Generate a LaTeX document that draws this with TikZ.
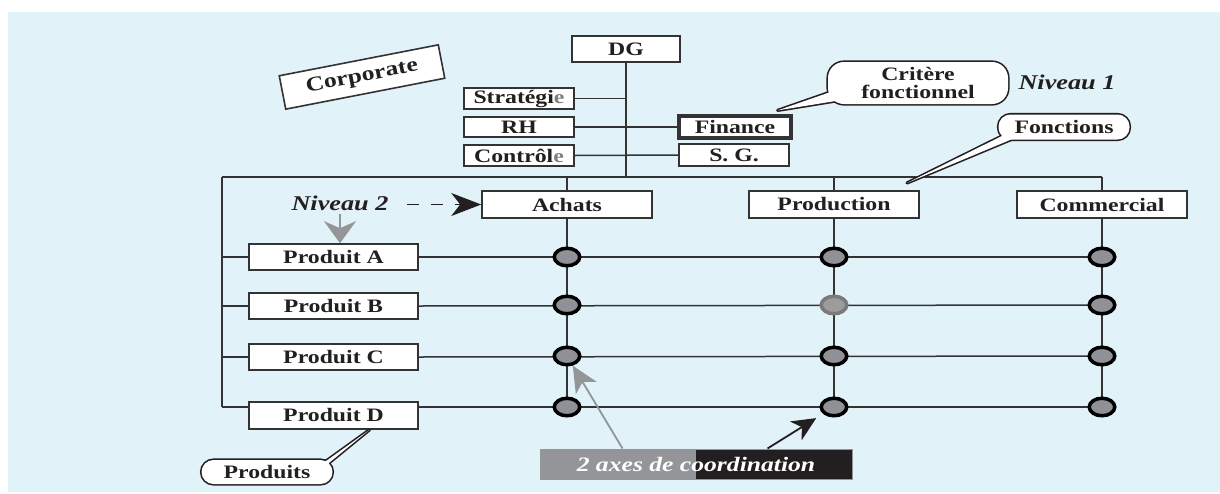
\documentclass[tikz,border=0pt]{standalone}
\usepackage{fontspec}
\setmainfont{Liberation Serif}[FakeStretch=1.25]
\usetikzlibrary{arrows.meta,shapes.geometric,calc}
\definecolor{panel}{HTML}{E1F2F9}
\definecolor{ink}{HTML}{231F20}
\definecolor{wire}{HTML}{333333}
\definecolor{knob}{HTML}{8F9196}
\definecolor{halfgray}{HTML}{939598}
\definecolor{softring}{HTML}{7A7A7A}
\definecolor{softknob}{HTML}{9C9C9C}
\begin{document}
\begin{tikzpicture}[x=1pt,y=-1pt,
  every node/.style={font=\fontsize{19}{18}\selectfont\bfseries, text=ink},
  unit/.style={draw=wire, line width=1.6pt, fill=white, inner sep=0pt},
  wireline/.style={draw=wire, line width=1.5pt},
  knot/.style={ellipse, draw=black, line width=3.5pt, fill=knob, inner sep=0pt,
    minimum width=25.5pt, minimum height=17.5pt},
  softknot/.style={knot, draw=softring, fill=softknob},
  tag/.style={font=\fontsize{21}{21}\selectfont\bfseries\itshape},
  bubble/.style={fill=white, rounded corners=#1, inner sep=0pt,
    preaction={draw=ink, line width=3.2pt}},
  tailstroke/.style={draw=ink, line width=3.2pt, line join=round},
]
\useasboundingbox (0,0) rectangle (1220,493);
\fill[panel] (8,12) rectangle (1220,492);

% ---- top level: direction and staff units
\node[unit, minimum width=108pt, minimum height=26pt] (dg) at (626,49) {DG};
\node[unit, minimum width=110pt, minimum height=21pt] (strat) at (519,98.5) {Stratégi{\color{gray}e}};
\node[unit, minimum width=110pt, minimum height=20pt] (rh) at (519,127) {RH};
\node[unit, minimum width=110pt, minimum height=21pt] (ctrl) at (519,155.5) {Contrôl{\color{gray}e}};
\node[unit, line width=3.2pt, minimum width=112pt, minimum height=22pt] (fin) at (735,127) {Finance};
\node[unit, minimum width=110pt, minimum height=22pt] (sg) at (734,155) {S. G.};

\node[unit, rotate=11, minimum width=162pt, minimum height=34pt,
  font=\fontsize{20.5}{20}\selectfont\bfseries] (corp) at (362,77) {Corporate};

% ---- functions (columns) and products (rows)
\node[unit, minimum width=170pt, minimum height=27pt] (ach) at (567,204.5) {Achats};
\node[unit, minimum width=170pt, minimum height=27pt] (prod) at (834,204.5) {Production};
\node[unit, minimum width=170pt, minimum height=27pt] (com) at (1102,204.5) {Commercial};

\node[unit, minimum width=169pt, minimum height=26pt] (pA) at (333.5,257) {Produit A};
\node[unit, minimum width=169pt, minimum height=26pt] (pB) at (333.5,306) {Produit B};
\node[unit, minimum width=169pt, minimum height=26pt] (pC) at (333.5,357) {Produit C};
\node[unit, minimum width=169pt, minimum height=27pt] (pD) at (333.5,415.5) {Produit D};

\coordinate (busL) at (222,177);
\coordinate (busR) at (1102,177);
\coordinate (rA) at (0,257);
\coordinate (rB) at (0,305);
\coordinate (rC) at (0,356);
\coordinate (rD) at (0,407);

% ---- wiring
\draw[wireline] (dg.south) -- (dg.south |- busL);
\draw[wireline] (strat.east) -- (strat.east -| dg.south);
\draw[wireline] (rh.east) -- (fin.west);
\draw[wireline] (ctrl.east) -- (sg.west);
\draw[wireline] (busL) -- (busR);
\foreach \f in {ach,prod,com}{
  \draw[wireline] (\f.north |- busL) -- (\f.north);
  \draw[wireline] (\f.south) -- (\f |- rD);
}
\draw[wireline] (busL) -- (busL |- rD);
\draw[wireline] (busL |- pA.west) -- (pA.west);
\draw[wireline] (busL |- pB.west) -- (pB.west);
\draw[wireline] (busL |- pC.west) -- (pC.west);
\draw[wireline] (busL |- rD) -- (pD.west |- rD);
\draw[wireline] (pA.east) -- (com |- rA);
\draw[wireline] (pB.east) -- (com |- rB);
\draw[wireline] (pC.east) -- (com |- rC);
\draw[wireline] (pD.east |- rD) -- (com |- rD);

% ---- crossing points
\foreach \f in {ach,prod,com}{
  \node[knot] (k\f A) at (\f |- rA) {};
  \node[knot] (k\f C) at (\f |- rC) {};
  \node[knot] (k\f D) at (\f |- rD) {};
}
\node[knot] (kachB) at (ach |- rB) {};
\node[softknot] (kprodB) at (prod |- rB) {};
\node[knot] (kcomB) at (com |- rB) {};

% ---- level labels
\node[tag] (niv1) at (1067,82) {Niveau 1};
\node[tag] (niv2) at (340,203) {Niveau 2};
\draw[ink, line width=1.5pt, dash pattern=on 12pt off 12pt, shorten <=15pt,
  -{Stealth[length=30pt,width=23pt,inset=9pt]}] (niv2.east |- ach.west) -- (ach.west);
\draw[halfgray, line width=1.5pt,
  -{Stealth[length=22pt,width=32pt,inset=7pt]}] (niv2.south) -- (niv2.south |- pA.north);

% ---- callout: Critère fonctionnel
\coordinate (critTip) at ($(fin.north east)+(-15,-4)$);
\draw[tailstroke] (842,88) -- (critTip) -- (848,99) -- cycle;
\node[bubble=16pt, minimum width=180pt, minimum height=42pt] (critBody) at (918,83) {};
\fill[white] (842,88) -- (critTip) -- (848,99) -- cycle;
\node[align=center] (critText) at (critBody) {Critère\\fonctionnel};

% ---- callout: Fonctions
\coordinate (fonTip) at (907,183);
\draw[tailstroke] (1012,131) -- (fonTip) -- (1022,135) -- cycle;
\node[bubble=12pt, minimum width=131pt, minimum height=25pt] (fonBody) at (1064,127) {};
\fill[white] (1012,131) -- (fonTip) -- (1022,135) -- cycle;
\node (fonText) at (fonBody) {Fonctions};

% ---- callout: Produits
\coordinate (proTip) at ($(pD.south)+(36,0)$);
\draw[tailstroke] (315,469) -- (proTip) -- (327,464.5) -- cycle;
\node[bubble=12pt, minimum width=131pt, minimum height=24pt] (proBody) at (267,472) {};
\fill[white] (315,469) -- (proTip) -- (327,464.5) -- cycle;
\node (proText) at (proBody) {Produits};

% ---- coordination banner and its arrows
\node[minimum width=312pt, minimum height=30pt, inner sep=0pt, draw=halfgray, line width=1pt,
  path picture={
    \fill[halfgray] (path picture bounding box.south west) rectangle (path picture bounding box.north);
    \fill[ink] (path picture bounding box.south) rectangle (path picture bounding box.north east);
  },
  font=\fontsize{20.5}{20}\selectfont\bfseries\itshape, text=white] (axes) at (696,464) {2 axes de coordination};
\draw[halfgray, line width=1.8pt, -{Stealth[length=26pt,width=24pt,inset=7pt]}]
  ($(axes.north west)+(83,0)$) -- (kachC);
\draw[ink, line width=1.8pt, shorten >=8pt, -{Stealth[length=24pt,width=22pt,inset=7pt]}]
  ($(axes.north west)+(228,0)$) -- (kprodD);
\end{tikzpicture}
\end{document}
